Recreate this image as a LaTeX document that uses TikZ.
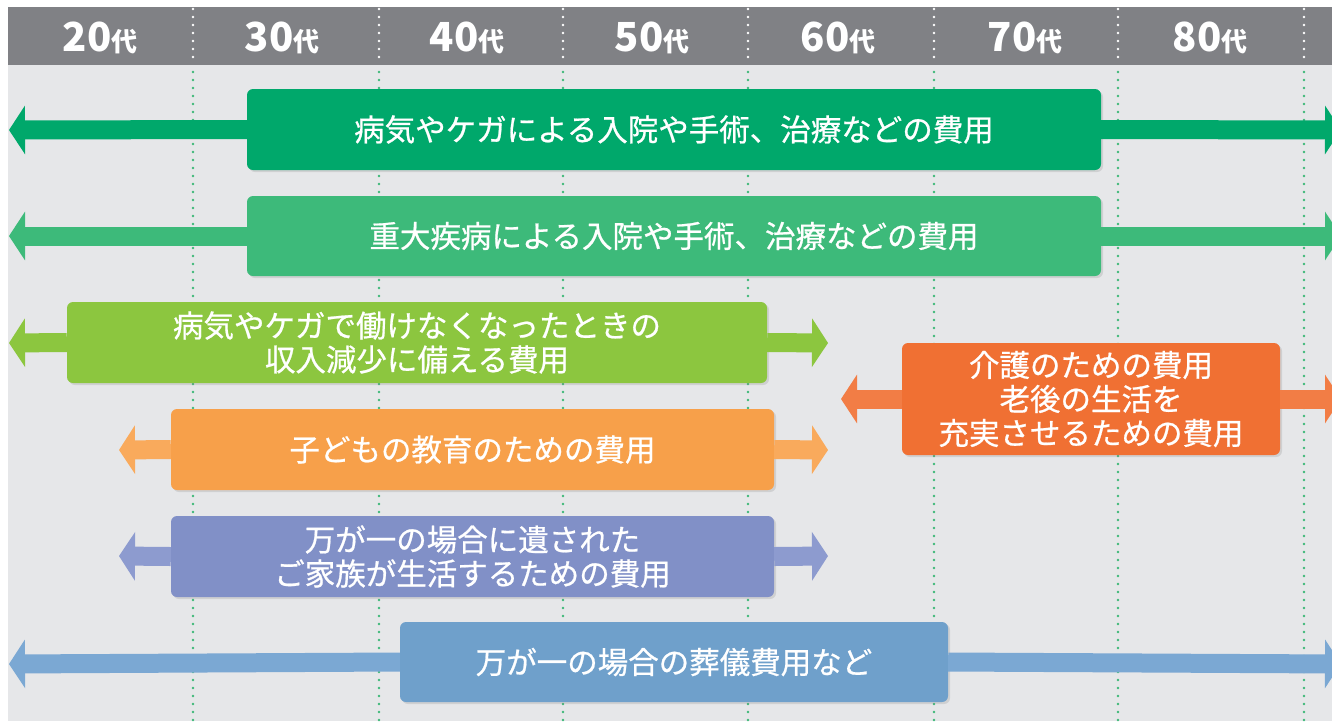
\documentclass[tikz,border=0pt]{standalone}
\usepackage{fontspec}
\newfontfamily\jpfont{Noto Sans CJK JP}
\newfontfamily\jpbody[FakeBold=0.7]{Noto Sans CJK JP}
\usetikzlibrary{arrows.meta,shadows,positioning}

\definecolor{headgray}{RGB}{128,129,133}
\definecolor{bggray}{RGB}{230,231,233}
\definecolor{dotgreen}{RGB}{60,184,120}
\definecolor{cA}{RGB}{0,168,107}
\definecolor{cB}{RGB}{61,186,122}
\definecolor{cC}{RGB}{140,198,63}
\definecolor{cD}{RGB}{247,160,74}
\definecolor{cDa}{RGB}{249,170,92}
\definecolor{cE}{RGB}{129,144,199}
\definecolor{cEa}{RGB}{141,155,207}
\definecolor{cF}{RGB}{111,160,203}
\definecolor{cFa}{RGB}{123,168,211}
\definecolor{cG}{RGB}{240,112,51}
\definecolor{cGa}{RGB}{242,125,69}

\tikzstyle{cost} = [rounded corners=6pt, text=white, align=center, inner sep=0pt,
font=\jpbody\fontsize{30.5}{34}\selectfont,
drop shadow={opacity=0.22, shadow xshift=2pt, shadow yshift=-2pt}]
\tikzstyle{span} = [line width=19pt, -{Triangle[length=16pt,width=48pt]}]
\tikzstyle{agegrid} = [line width=2.6pt, line cap=round, dash pattern=on 0pt off 8pt]
\tikzstyle{age} = [text=white, anchor=base, inner sep=0pt, font=\jpfont\bfseries]

\begin{document}
\begin{tikzpicture}[x=1pt, y=-1pt]
		\useasboundingbox (0,0) rectangle (1332,721);
		\clip (0,0) rectangle (1332,721);
		\fill [white] (0,0) rectangle (1332,721);
		\fill [bggray] (8,65) rectangle (1332,721);
		\fill [headgray] (8,7) rectangle (1332,65);

		% age columns
		\foreach \gx in {193,379,563,748,934,1118,1304} {
			\draw [agegrid, white] (\gx,9) -- (\gx,64);
			\draw [agegrid, dotgreen] (\gx,72) -- (\gx,721);
		}
		\foreach \a/\ax in {20/100,30/282,40/467,50/652,60/838,70/1025,80/1210}
			\node [age] (age\a) at (\ax,51) {{\fontsize{40}{40}\selectfont\a}{\fontsize{26}{26}\selectfont 代}};

		% free ends of the arrows
		\coordinate (l1) at (9,130);    \coordinate (r1) at (1341,130);
		\coordinate (l2) at (9,236);    \coordinate (r2) at (1341,236);
		\coordinate (l3) at (9,343);    \coordinate (r3) at (828,343);
		\coordinate (l4) at (119,450);  \coordinate (r4) at (828,450);
		\coordinate (l5) at (119,556);  \coordinate (r5) at (828,556);
		\coordinate (l6) at (9,664);    \coordinate (r6) at (1341,664);
		\coordinate (l7) at (841,399);  \coordinate (r7) at (1341,399);

		\node [cost, fill=cA, minimum width=854pt, minimum height=81pt] (sick) at (674,129.5) {病気やケガによる入院や手術、治療などの費用};
		\draw [span, cA] (sick.west) -- (l1);
		\draw [span, cA] (sick.east) -- (r1);

		\node [cost, fill=cB, minimum width=854pt, minimum height=80pt] (grave) at (674,236) {重大疾病による入院や手術、治療などの費用};
		\draw [span, cB] (grave.west) -- (l2);
		\draw [span, cB] (grave.east) -- (r2);

		\node [cost, fill=cC, minimum width=700pt, minimum height=81pt] (income) at (417,342.5) {病気やケガで働けなくなったときの\\収入減少に備える費用};
		\draw [span, cC] (income.west) -- (l3);
		\draw [span, cC] (income.east) -- (r3);

		\node [cost, fill=cD, minimum width=603pt, minimum height=81pt] (school) at (472.5,449.5) {子どもの教育のための費用};
		\draw [span, cDa] (school.west) -- (l4);
		\draw [span, cDa] (school.east) -- (r4);

		\node [cost, fill=cE, minimum width=603pt, minimum height=81pt] (family) at (472.5,556.5) {万が一の場合に遺された\\ご家族が生活するための費用};
		\draw [span, cEa] (family.west) -- (l5);
		\draw [span, cEa] (family.east) -- (r5);

		\node [cost, fill=cF, minimum width=548pt, minimum height=80pt] (funeral) at (674,662) {万が一の場合の葬儀費用など};
		\draw [span, cFa] (funeral.west) -- (l6);
		\draw [span, cFa] (funeral.east) -- (r6);

		\node [cost, fill=cG, minimum width=378pt, minimum height=112pt] (care) at (1091,399) {介護のための費用\\老後の生活を\\充実させるための費用};
		\draw [span, cGa] (care.west) -- (l7);
		\draw [span, cGa] (care.east) -- (r7);
		
		\end{tikzpicture}
\end{document}
